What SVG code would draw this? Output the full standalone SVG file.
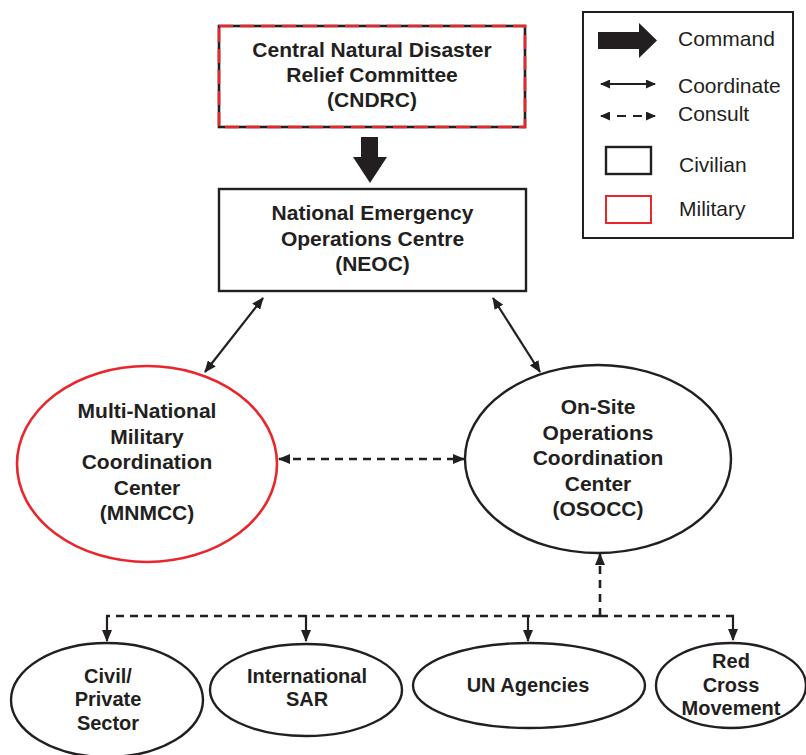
<svg xmlns="http://www.w3.org/2000/svg" width="806" height="755" viewBox="0 0 806 755">
<style>
  .t { font-family: "Liberation Sans", Arial, sans-serif; font-weight: bold; font-size: 21px; fill: #231f20; text-anchor: middle; }
  .ts { font-family: "Liberation Sans", Arial, sans-serif; font-weight: bold; font-size: 20px; fill: #231f20; text-anchor: middle; }
  .lg { font-family: "Liberation Sans", Arial, sans-serif; font-size: 21px; fill: #231f20; }
  .civ { fill: #ffffff; stroke: #231f20; stroke-width: 2.4; }
  .mil { fill: #ffffff; stroke: #e8262b; stroke-width: 2.6; }
  .ln { fill: none; stroke: #231f20; stroke-width: 2.2; }
  .dash { fill: none; stroke: #231f20; stroke-width: 2.6; stroke-dasharray: 8 6; }
</style>
<defs>
  <marker id="ah" viewBox="0 0 12 10" refX="11" refY="5" markerWidth="12" markerHeight="10" markerUnits="userSpaceOnUse" orient="auto-start-reverse">
    <path d="M0,0 L12,5 L0,10 z" fill="#231f20"/>
  </marker>
  <marker id="ahs" viewBox="0 0 10 9" refX="9" refY="4.5" markerWidth="10" markerHeight="9" markerUnits="userSpaceOnUse" orient="auto-start-reverse">
    <path d="M0,0 L10,4.5 L0,9 z" fill="#231f20"/>
  </marker>
</defs>
<rect width="806" height="755" fill="#ffffff"/>

<g id="legend">
  <rect x="583" y="12" width="210" height="226" fill="#ffffff" stroke="#231f20" stroke-width="2"/>
  <polygon points="598,32 639,32 639,23 657,40.5 639,58 639,49 598,49" fill="#231f20"/>
  <text class="lg" x="678" y="45.5">Command</text>
  <line class="ln" x1="601" y1="84" x2="655" y2="84" marker-start="url(#ahs)" marker-end="url(#ahs)"/>
  <text class="lg" x="678" y="92.5">Coordinate</text>
  <line class="ln" x1="601" y1="116" x2="655" y2="116" stroke-dasharray="9 7" marker-start="url(#ahs)" marker-end="url(#ahs)"/>
  <text class="lg" x="678" y="120.5">Consult</text>
  <rect x="606" y="147" width="45" height="27" class="civ"/>
  <text class="lg" x="679" y="171.5">Civilian</text>
  <rect x="606" y="196" width="45" height="27" fill="#ffffff" stroke="#e8262b" stroke-width="2"/>
  <text class="lg" x="679" y="215.5">Military</text>
</g>

<g id="connectors">
  <polygon points="361,137 378,137 378,157 387,157 370,183 353,157 361,157" fill="#231f20"/>
  <line class="ln" x1="263" y1="298" x2="205" y2="372" marker-start="url(#ah)" marker-end="url(#ah)"/>
  <line class="ln" x1="493" y1="298" x2="540" y2="372" marker-start="url(#ah)" marker-end="url(#ah)"/>
  <line class="dash" x1="279" y1="459" x2="464" y2="459" stroke-dasharray="9 7" marker-start="url(#ah)" marker-end="url(#ah)"/>
  <line class="dash" x1="600" y1="616" x2="600" y2="554" stroke-dasharray="11 5" marker-end="url(#ah)"/>
  <line class="dash" x1="600" y1="616" x2="106" y2="616"/>
  <line class="dash" x1="600" y1="616" x2="734" y2="616" stroke-dasharray="15 7"/>
  <line class="ln" x1="107" y1="615" x2="107" y2="641" stroke-width="2.6" marker-end="url(#ah)"/>
  <line class="ln" x1="306" y1="615" x2="306" y2="641" stroke-width="2.6" marker-end="url(#ah)"/>
  <line class="ln" x1="528" y1="615" x2="528" y2="641" stroke-width="2.6" marker-end="url(#ah)"/>
  <line class="ln" x1="733" y1="615" x2="733" y2="640" stroke-width="2.6" marker-end="url(#ah)"/>
</g>

<g id="cndrc">
  <rect x="219" y="26" width="306" height="101" fill="#ffffff" stroke="#231f20" stroke-width="2.6"/>
  <rect x="219" y="26" width="306" height="101" fill="none" stroke="#e8262b" stroke-width="2.6" stroke-dasharray="14 7"/>
  <text class="t" x="372" y="57">Central Natural Disaster</text>
  <text class="t" x="372" y="82">Relief Committee</text>
  <text class="t" x="372" y="107">(CNDRC)</text>
</g>

<g id="neoc">
  <rect x="219" y="189" width="307" height="102" class="civ"/>
  <text class="t" x="372.5" y="220">National Emergency</text>
  <text class="t" x="372.5" y="246">Operations Centre</text>
  <text class="t" x="372.5" y="271">(NEOC)</text>
</g>

<g id="mnmcc">
  <ellipse cx="147" cy="464" rx="130" ry="98" class="mil"/>
  <text class="t" x="147" y="418">Multi-National</text>
  <text class="t" x="147" y="444">Military</text>
  <text class="t" x="147" y="469">Coordination</text>
  <text class="t" x="147" y="495">Center</text>
  <text class="t" x="147" y="520">(MNMCC)</text>
</g>

<g id="osocc">
  <ellipse cx="598" cy="459" rx="133" ry="94" class="civ"/>
  <text class="t" x="598" y="414">On-Site</text>
  <text class="t" x="598" y="440">Operations</text>
  <text class="t" x="598" y="465">Coordination</text>
  <text class="t" x="598" y="491">Center</text>
  <text class="t" x="598" y="516">(OSOCC)</text>
</g>

<g id="civil">
  <ellipse cx="107" cy="700" rx="96" ry="57" class="civ"/>
  <text class="ts" x="108" y="683">Civil/</text>
  <text class="ts" x="108" y="706">Private</text>
  <text class="ts" x="108" y="730">Sector</text>
</g>

<g id="sar">
  <ellipse cx="306" cy="690" rx="96" ry="46" class="civ"/>
  <text class="ts" x="307" y="683">International</text>
  <text class="ts" x="307" y="706">SAR</text>
</g>

<g id="un">
  <ellipse cx="529" cy="685.5" rx="116" ry="42.5" class="civ"/>
  <text class="ts" x="528" y="692">UN Agencies</text>
</g>

<g id="redcross">
  <ellipse cx="731" cy="685.5" rx="75" ry="42.5" class="civ"/>
  <text class="ts" x="731" y="668">Red</text>
  <text class="ts" x="731" y="692">Cross</text>
  <text class="ts" x="731" y="715">Movement</text>
</g>
</svg>
